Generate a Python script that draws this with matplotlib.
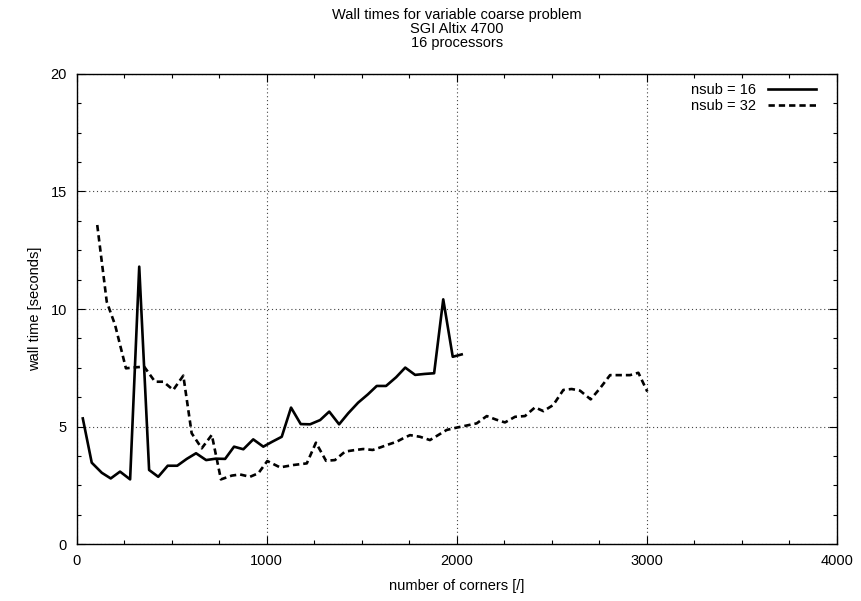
import numpy as np
import matplotlib
matplotlib.use("Agg")
import matplotlib.pyplot as plt
from matplotlib.ticker import MultipleLocator

plt.rcParams['font.family'] = ['Liberation Sans', 'DejaVu Sans']

# nsub = 16
corners16 = [32, 79, 132, 179, 228, 281, 329, 381, 429, 479, 529, 579, 628, 681,
             732, 781, 828, 877, 929, 982, 1029, 1079, 1128, 1179, 1228, 1281,
             1329, 1381, 1429, 1481, 1532, 1579, 1628, 1681, 1729, 1781, 1830,
             1881, 1929, 1979, 2026]
time16 = [5.35, 3.47, 3.04, 2.80, 3.09, 2.76, 11.80, 3.16, 2.87, 3.34, 3.34, 3.63,
          3.87, 3.58, 3.64, 3.63, 4.15, 4.04, 4.46, 4.15, 4.36, 4.57, 5.81, 5.11,
          5.10, 5.28, 5.64, 5.10, 5.57, 6.02, 6.37, 6.73, 6.73, 7.10, 7.51, 7.20,
          7.24, 7.27, 10.41, 7.97, 8.07]

# nsub = 32
corners32 = [108, 158, 202, 259, 307, 355, 412, 456, 508, 561, 605, 658, 711, 759,
             816, 859, 912, 956, 1003, 1070, 1140, 1211, 1259, 1312, 1359, 1412,
             1459, 1508, 1558, 1602, 1632, 1684, 1717, 1754, 1807, 1859, 1902,
             1947, 2000, 2053, 2105, 2158, 2207, 2254, 2307, 2359, 2412, 2456,
             2508, 2561, 2605, 2649, 2705, 2754, 2807, 2859, 2912, 2956, 3003]
time32 = [13.57, 10.31, 9.32, 7.48, 7.52, 7.55, 6.91, 6.91, 6.56, 7.17, 4.72, 4.08,
          4.65, 2.76, 2.92, 2.97, 2.87, 3.02, 3.54, 3.27, 3.37, 3.44, 4.32, 3.55,
          3.58, 3.94, 4.00, 4.05, 4.01, 4.13, 4.22, 4.36, 4.50, 4.64, 4.57, 4.43,
          4.64, 4.86, 4.96, 5.05, 5.14, 5.45, 5.30, 5.18, 5.42, 5.45, 5.82, 5.66,
          5.92, 6.56, 6.60, 6.53, 6.16, 6.63, 7.19, 7.19, 7.19, 7.29, 6.49]

fig = plt.figure(figsize=(8.62, 6.01), dpi=100)
ax = fig.add_axes([0.089, 0.0943, 0.8817, 0.7831])

ax.plot(corners16, time16, color='k', lw=1.9, label='nsub = 16')
ax.plot(corners32, time32, color='k', lw=1.9, dashes=(2.4, 1.5), label='nsub = 32')

ax.set_xlim(0, 4000)
ax.set_ylim(0, 20)
ax.xaxis.set_major_locator(MultipleLocator(1000))
ax.xaxis.set_minor_locator(MultipleLocator(250))
ax.yaxis.set_major_locator(MultipleLocator(5))
ax.yaxis.set_minor_locator(MultipleLocator(1.25))
ax.tick_params(which='both', direction='in', top=True, right=True, labelsize=10.5)
ax.tick_params(which='major', length=6, width=0.8, pad=7)
ax.tick_params(which='minor', length=3, width=0.8)
ax.grid(True, which='major', color='#444444', linestyle=(0, (1, 2.5)), lw=0.8)
for s in ax.spines.values():
    s.set_linewidth(1.0)

ax.set_xlabel('number of corners [/]', fontsize=10.5, labelpad=8)
ax.set_ylabel('wall time [seconds]', fontsize=10.5, labelpad=6)
ax.set_title('Wall times for variable coarse problem\nSGI Altix 4700\n16 processors',
             fontsize=10.5, linespacing=1.0, pad=19)

ax.legend(loc='upper right', bbox_to_anchor=(0.9728, 0.980), frameon=False,
          markerfirst=False, handlelength=3.3, fontsize=10.5, borderaxespad=0,
          borderpad=0, labelspacing=0.12, handletextpad=0.8)

fig.savefig('out.png', dpi=100)
